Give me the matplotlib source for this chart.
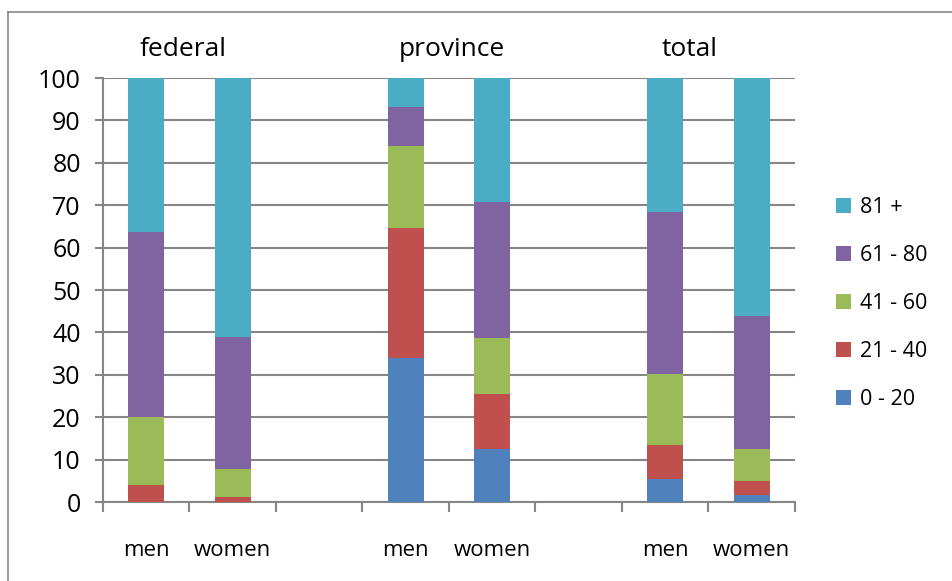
import matplotlib
matplotlib.use("Agg")
import matplotlib.pyplot as plt
from matplotlib.lines import Line2D
import numpy as np

plt.rcParams['font.family'] = ['Open Sans', 'DejaVu Sans']

# Share of people per age band (percent), for each group and gender
groups = ["federal", "province", "total"]
genders = ["men", "women"]
bands = ["0 - 20", "21 - 40", "41 - 60", "61 - 80", "81 +"]
colors = ["#4F81BD", "#C0504D", "#9BBB59", "#8064A2", "#4BACC6"]

# order of bars: federal men, federal women, province men, province women, total men, total women
band_0_20  = [0.0, 0.0, 33.9, 12.6, 5.5, 1.7]
band_21_40 = [4.1, 1.2, 30.7, 12.8, 8.0, 3.3]
band_41_60 = [16.0, 6.7, 19.4, 13.2, 16.6, 7.6]
band_61_80 = [43.5, 31.1, 9.1, 32.1, 38.2, 31.2]
band_81    = [36.4, 60.9, 6.9, 29.3, 31.7, 56.2]
series = [band_0_20, band_21_40, band_41_60, band_61_80, band_81]

W, H = 953, 581
fig = plt.figure(figsize=(W / 100, H / 100), dpi=100)
ax = fig.add_axes([103 / W, 1 - 502 / H, (795 - 103) / W, (502 - 78) / H])

# bars occupy slots 0,1 / 3,4 / 6,7 with empty slots in between
positions = np.array([0, 1, 3, 4, 6, 7])
bottom = np.zeros(len(positions))
for vals, col, lab in zip(series, colors, bands):
    v = np.array(vals)
    ax.bar(positions, v, width=0.42, bottom=bottom, color=col, label=lab,
           edgecolor="none", zorder=3)
    bottom += v

grid_col = "#868686"
ax.set_xlim(-0.5, 7.5)
ax.set_ylim(0, 100)
ax.set_yticks(np.arange(0, 101, 10))
ax.yaxis.grid(True, color=grid_col, linewidth=1.5, zorder=0)
ax.tick_params(axis="y", length=6, width=1.5, color=grid_col, labelsize=18, pad=10)

ax.set_xticks(positions)
ax.set_xticklabels(genders * 3)
ax.tick_params(axis="x", which="major", length=0, labelsize=16, pad=27)
ax.set_xticks(np.arange(-0.5, 8.0, 1.0), minor=True)
ax.tick_params(axis="x", which="minor", length=7, width=1.5, color=grid_col)

for side in ["top", "right"]:
    ax.spines[side].set_visible(False)
for side in ["left", "bottom"]:
    ax.spines[side].set_color(grid_col)
    ax.spines[side].set_linewidth(1.5)

# group titles above the plot
for name, xp in zip(groups, [183, 452, 690]):
    fig.text(xp / W, 1 - 50 / H, name, ha="center", va="center", fontsize=19)

handles, labels = ax.get_legend_handles_labels()
fig.legend(handles[::-1], labels[::-1], loc="upper left",
           bbox_to_anchor=(817 / W, 1 - 178 / H), frameon=False, fontsize=15.5,
           handlelength=0.7, handleheight=0.7, handletextpad=0.4,
           labelspacing=1.25)

# chart frame
fig.add_artist(Line2D([8 / W, 8 / W], [0, 1 - 12 / H], color=grid_col, linewidth=1.2))
fig.add_artist(Line2D([8 / W, 1], [1 - 12 / H, 1 - 12 / H], color=grid_col, linewidth=1.2))

fig.savefig("out.png", dpi=100)
